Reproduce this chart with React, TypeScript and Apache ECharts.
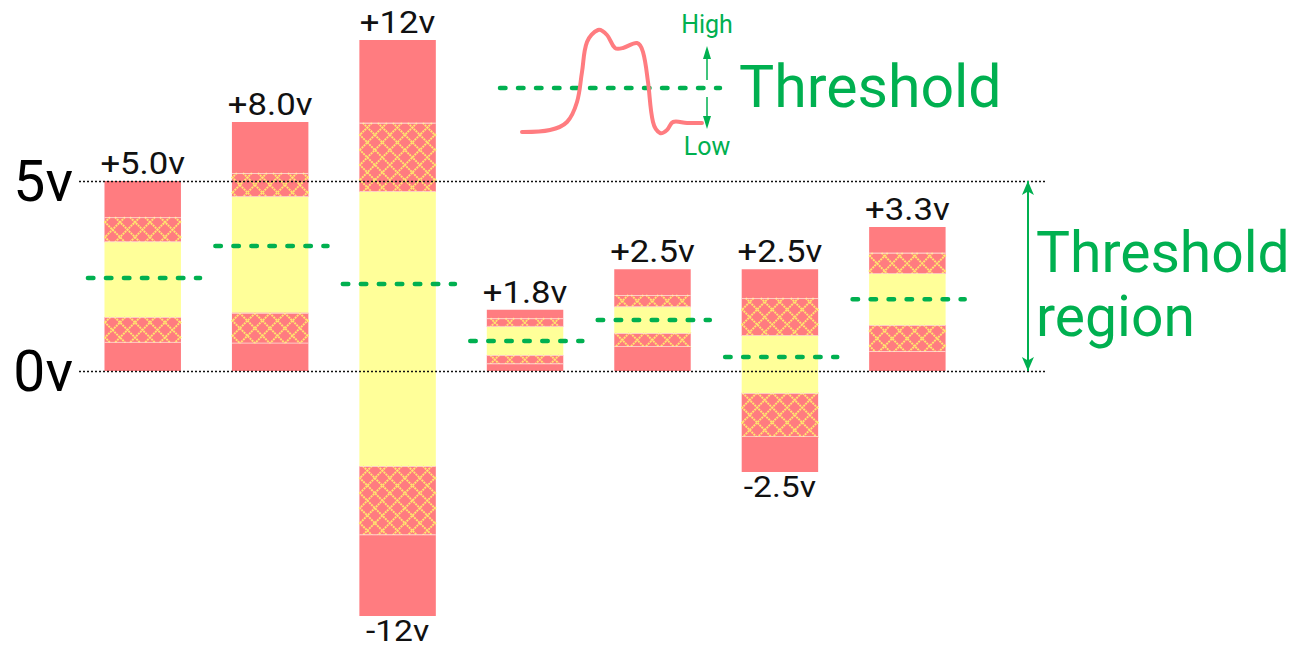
import React, { useEffect, useRef } from "react";
import * as echarts from "echarts";

// ---- data (chart units: 0v line = 0, 5v line = 5) ----
const categories = ["A", "B", "C", "D", "E", "F", "G"];
const topLabels = ["+5.0v", "+8.0v", "+12v", "+1.8v", "+2.5v", "+2.5v", "+3.3v"];
const bottomLabels = ["", "", "-12v", "", "", "-2.5v", ""];
const barTop = [5.0, 6.55, 8.71, 1.61, 2.68, 2.68, 3.79];
const highHatchTop = [4.05, 5.21, 6.53, 1.39, 2.0, 1.92, 3.11];
const yellowTop = [3.39, 4.58, 4.71, 1.16, 1.68, 0.92, 2.55];
const yellowBottom = [1.42, 1.53, -2.5, 0.42, 1.0, -0.58, 1.21];
const lowHatchBottom = [0.74, 0.72, -4.32, 0.18, 0.63, -1.74, 0.5];
const barBottom = [0, 0, -6.45, 0, 0, -2.66, 0];
const threshold = [2.45, 3.29, 2.29, 0.79, 1.34, 0.37, 1.89];
const yTickLabels = ["0v", "5v"];
const yTickValues = [0, 5];

const RED = "#ff7c80";
const YELLOW = "#ffff99";
const HATCH = "#ffe56e";
const GREEN = "#00b050";

function hatchLines(x0: number, y0: number, x1: number, y1: number, s: number) {
  const out: any[] = [];
  const ax = x0 + 8;
  const ay = (y0 + y1) / 2;
  const umin = x0 - ax, umax = x1 - ax, vmin = y0 - ay, vmax = y1 - ay;
  const style = { stroke: HATCH, lineWidth: 1.9, lineDash: [2, 0.8] };
  for (let k = Math.floor((umin - vmax) / s); k <= Math.ceil((umax - vmin) / s); k++) {
    const c = k * s;
    const va = Math.max(vmin, umin - c), vb = Math.min(vmax, umax - c);
    if (vb > va) out.push({ type: "line", shape: { x1: ax + va + c, y1: ay + va, x2: ax + vb + c, y2: ay + vb }, style });
  }
  for (let k = Math.floor((umin + vmin) / s); k <= Math.ceil((umax + vmax) / s); k++) {
    const c = k * s;
    const va = Math.max(vmin, c - umax), vb = Math.min(vmax, c - umin);
    if (vb > va) out.push({ type: "line", shape: { x1: ax + c - va, y1: ay + va, x2: ax + c - vb, y2: ay + vb }, style });
  }
  const edge = { stroke: "rgba(255,225,215,0.8)", lineWidth: 1 };
  out.push({ type: "line", shape: { x1: x0, y1: y0 + 0.5, x2: x1, y2: y0 + 0.5 }, style: edge });
  out.push({ type: "line", shape: { x1: x0, y1: y1 - 0.5, x2: x1, y2: y1 - 0.5 }, style: edge });
  return out;
}

export default function App() {
  const ref = useRef<HTMLDivElement>(null);
  useEffect(() => {
    document.body.style.margin = "0";
    const chart = echarts.init(ref.current!, null, { renderer: "svg" });
    const renderItem = (params: any, api: any) => {
      const i = params.dataIndex;
      const xv = api.value(0);
      const cx = api.coord([xv, 0])[0];
      const bw = Math.abs(api.size([0.6, 0])[0]);
      const x0 = cx - bw / 2;
      const yOf = (v: number) => api.coord([xv, v])[1];
      const segs: [number, number, string][] = [
        [barTop[i], highHatchTop[i], "red"],
        [highHatchTop[i], yellowTop[i], "hatch"],
        [yellowTop[i], yellowBottom[i], "yellow"],
        [yellowBottom[i], lowHatchBottom[i], "hatch"],
        [lowHatchBottom[i], barBottom[i], "red"],
      ];
      const children: any[] = [];
      segs.forEach(([t, b, kind]) => {
        const y1 = yOf(t), y2 = yOf(b);
        children.push({
          type: "rect",
          shape: { x: x0, y: y1, width: bw, height: y2 - y1 },
          style: { fill: kind === "yellow" ? YELLOW : RED },
        });
        if (kind === "hatch") children.push(...hatchLines(x0, y1, x0 + bw, y2, 15));
      });
      const unit = Math.abs(api.size([1, 0])[0]);
      const yt = yOf(threshold[i]);
      children.push({
        type: "line",
        shape: { x1: cx - 0.43 * unit, y1: yt, x2: cx + 0.45 * unit, y2: yt },
        style: { stroke: GREEN, lineWidth: 4.5, lineDash: [5.5, 12.5], lineCap: "round" },
      });
      children.push({
        type: "text",
        x: cx,
        y: yOf(barTop[i]) - 2,
        scaleX: 1.12,
        style: { text: topLabels[i], x: 0, y: 0, align: "center", verticalAlign: "bottom", fontSize: 31, fontFamily: "Roboto", fill: "#111" },
      });
      if (bottomLabels[i]) {
        children.push({
          type: "text",
          x: cx,
          y: yOf(barBottom[i]) + 15,
          scaleX: 1.16,
          style: { text: bottomLabels[i], x: 0, y: 0, align: "center", verticalAlign: "middle", fontSize: 29, fontFamily: "Roboto", fill: "#111" },
        });
      }
      return { type: "group", children };
    };

    const curve = [
      [522, 132], [550, 130], [567, 122], [577, 102], [582, 72], [587, 42], [598, 30], [607, 35],
      [615, 48], [623, 48], [637, 43], [643, 52], [648, 82], [653, 122], [660, 133], [667, 130],
      [673, 122], [687, 123], [702, 123],
    ];

    chart.setOption({
      animation: false,
      grid: { left: 79, right: 250, top: 29, bottom: 11 },
      xAxis: { type: "value", min: 0.5, max: 8.08, show: false },
      yAxis: {
        type: "value",
        min: -7,
        max: 9,
        interval: 1,
        axisLine: { show: false },
        axisTick: { show: false },
        splitLine: { show: false },
        axisLabel: {
          margin: 6,
          fontSize: 57,
          fontFamily: "Roboto",
          color: "#000",
          formatter: (v: number) => {
            const k = yTickValues.indexOf(v);
            return k >= 0 ? yTickLabels[k] : "";
          },
        },
      },
      series: [
        {
          type: "custom",
          clip: false,
          renderItem,
          data: categories.map((c, i) => [i + 1, barTop[i], barBottom[i]]),
          markLine: {
            silent: true,
            symbol: ["none", "none"],
            label: { show: false },
            lineStyle: { type: [2, 2], color: "#111", width: 1.4 },
            data: [
              { yAxis: 0 },
              { yAxis: 5 },
              [
                { coord: [7.946, 0], symbol: "arrow", symbolSize: [9, 14], lineStyle: { type: "solid", color: GREEN, width: 2 } },
                { coord: [7.946, 5], symbol: "arrow", symbolSize: [9, 14] },
              ],
            ],
          },
        },
      ],
      graphic: [
        { type: "line", shape: { x1: 500, y1: 88, x2: 720, y2: 88 }, style: { stroke: GREEN, lineWidth: 4.5, lineDash: [5.5, 12.5], lineCap: "round" } },
        { type: "polyline", shape: { points: curve, smooth: 0.35 }, style: { stroke: RED, lineWidth: 4, fill: "none", lineCap: "round", lineJoin: "round" } },
        { type: "line", shape: { x1: 707, y1: 80, x2: 707, y2: 56 }, style: { stroke: GREEN, lineWidth: 1.5 } },
        { type: "polygon", shape: { points: [[707, 46], [703, 59], [711, 59]] }, style: { fill: GREEN } },
        { type: "line", shape: { x1: 707, y1: 97, x2: 707, y2: 120 }, style: { stroke: GREEN, lineWidth: 1.5 } },
        { type: "polygon", shape: { points: [[707, 129], [703, 116], [711, 116]] }, style: { fill: GREEN } },
        { type: "text", x: 707, y: 24, style: { text: "High", align: "center", verticalAlign: "middle", fontSize: 25, fontFamily: "Roboto", fill: GREEN } },
        { type: "text", x: 707, y: 146, style: { text: "Low", align: "center", verticalAlign: "middle", fontSize: 25, fontFamily: "Roboto", fill: GREEN } },
        { type: "text", x: 739, y: 86, style: { text: "Threshold", align: "left", verticalAlign: "middle", fontSize: 59, fontFamily: "Roboto", fill: GREEN } },
        { type: "text", x: 1036, y: 252, style: { text: "Threshold", align: "left", verticalAlign: "middle", fontSize: 57, fontFamily: "Roboto", fill: GREEN } },
        { type: "text", x: 1036, y: 316, style: { text: "region", align: "left", verticalAlign: "middle", fontSize: 57, fontFamily: "Roboto", fill: GREEN } },
      ],
    });
    return () => chart.dispose();
  }, []);
  return <div ref={ref} style={{ width: 1295, height: 648 }} />;
}
